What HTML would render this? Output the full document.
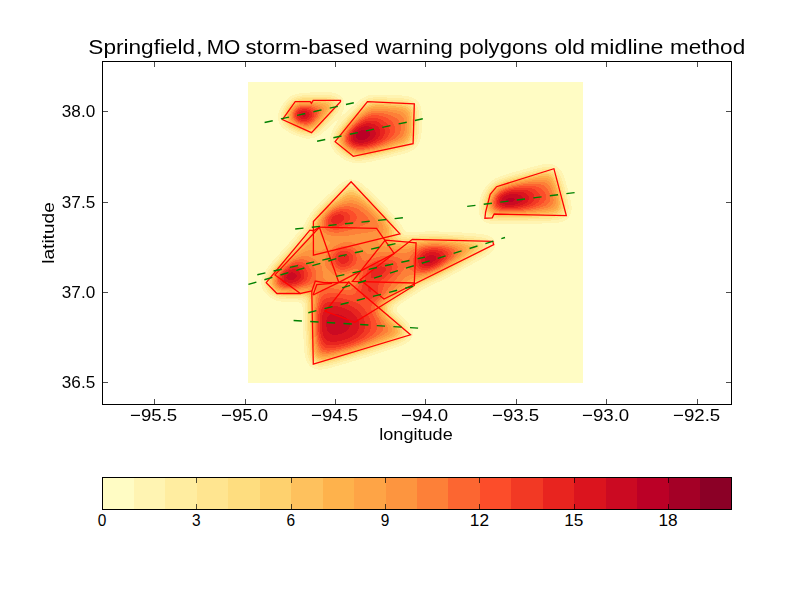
<!DOCTYPE html>
<html><head><meta charset="utf-8"><title>Springfield, MO storm-based warning polygons</title>
<style>html,body{margin:0;padding:0;background:#fff;}svg{display:block;}text{font-family:"Liberation Sans",sans-serif;fill:#000;}</style></head><body>
<svg width="812" height="612" viewBox="0 0 812 612">
<rect x="0" y="0" width="812" height="612" fill="#ffffff"/>
<g shape-rendering="crispEdges">
<rect x="247.9" y="81.8" width="335.0" height="301.0" fill="#fffcc4"/>
</g>
<g fill-rule="evenodd" stroke="none" shape-rendering="crispEdges">
<path fill="#fff4b2" d="M317.7,92.1L326.6,92.0L330.1,92.2L333.1,92.7L335.6,93.3L337.6,94.1L339.6,95.3L341.2,96.5L342.4,98.0L343.5,100.0L344.1,102.0L344.3,104.6L344.2,106.5L343.7,109.0L342.9,111.5L341.2,115.5L341.1,116.2L342.1,115.6L348.1,110.6L357.1,102.2L360.1,99.7L362.1,98.3L364.6,96.9L367.1,95.9L369.1,95.3L373.1,94.7L378.1,94.5L399.6,95.3L404.1,95.7L407.6,96.2L410.6,96.9L413.1,97.9L414.6,98.8L416.3,100.0L417.8,101.5L418.9,103.0L420.6,106.5L421.6,111.0L421.9,114.5L422.0,119.5L421.5,133.1L420.6,139.1L419.9,141.6L419.0,143.6L417.0,146.6L414.1,149.3L410.6,151.4L405.6,153.3L386.1,158.3L370.6,161.8L365.1,162.7L361.1,163.2L357.6,163.3L354.6,163.1L351.1,162.4L347.6,161.2L344.1,159.4L340.1,156.7L336.6,153.8L334.1,151.1L332.3,148.6L330.9,145.6L330.2,143.1L329.9,140.1L330.2,137.1L330.8,134.6L331.9,131.6L333.0,129.1L338.1,120.3L338.6,119.3L338.6,118.9L336.1,120.9L325.0,131.1L321.1,134.2L318.6,135.9L316.6,136.9L314.1,137.9L311.6,138.4L308.6,138.7L305.1,138.4L301.1,137.4L297.6,136.2L293.1,134.4L288.1,131.8L285.1,129.9L282.3,127.5L279.9,124.5L278.5,121.5L277.8,118.5L277.9,115.0L278.8,111.6L280.6,107.5L283.2,103.5L286.2,100.0L288.6,97.8L291.1,96.1L294.1,94.7L297.1,93.8L299.6,93.3L303.1,92.9ZM544.4,164.1L547.6,163.7L550.6,163.9L553.6,164.6L556.1,165.8L558.5,167.6L560.3,169.6L562.0,172.1L563.4,175.1L565.5,181.1L568.4,191.1L570.5,200.1L571.5,206.1L571.5,210.1L570.8,213.6L569.4,216.6L567.2,219.1L565.1,220.5L562.6,221.6L560.1,222.4L556.6,222.9L549.1,223.4L523.6,223.8L491.1,223.8L488.6,223.4L486.1,222.6L484.1,221.4L482.1,219.6L481.0,218.1L479.9,216.1L479.3,214.1L478.9,212.1L478.7,207.1L479.4,201.6L480.8,196.1L482.9,191.1L485.8,186.6L489.1,182.9L491.6,180.9L495.1,178.7L499.1,176.8L503.1,175.3L513.1,172.3L531.1,167.3L540.1,164.9ZM349.2,179.5L351.1,179.4L353.1,179.6L355.1,180.0L357.1,180.8L359.1,181.8L361.6,183.5L367.1,188.1L379.6,200.1L391.9,213.1L395.9,217.6L398.7,221.1L400.4,223.6L404.1,229.7L405.1,230.7L406.6,231.7L408.1,232.1L410.6,232.3L424.6,231.5L434.1,231.4L442.6,231.6L455.6,232.1L473.6,233.3L483.1,234.2L486.1,234.9L488.6,235.7L490.6,236.7L492.6,238.2L494.2,240.1L495.1,242.1L495.4,244.1L495.2,246.1L494.8,247.6L494.1,249.1L492.3,251.6L489.5,254.0L485.6,256.7L468.6,266.2L448.1,277.3L440.1,281.3L426.5,287.6L422.6,289.5L402.1,303.0L399.9,304.6L398.1,306.1L397.1,307.4L396.7,308.6L396.6,310.1L397.2,311.6L399.2,314.1L406.1,320.7L409.2,324.1L411.5,327.6L412.6,330.6L412.8,332.6L412.8,334.1L412.4,336.1L411.9,337.6L411.0,339.1L409.8,340.6L407.1,342.8L405.1,344.1L402.6,345.3L397.1,347.3L367.6,356.9L345.1,363.7L332.6,367.3L326.1,368.9L321.1,369.6L318.6,369.6L316.6,369.3L314.6,368.8L312.6,368.0L310.6,366.6L309.1,365.2L307.9,363.6L306.7,361.6L305.9,359.6L305.2,357.1L304.7,354.1L304.2,350.1L303.1,331.6L302.9,324.6L302.8,309.1L302.4,306.6L301.6,304.5L300.2,303.1L298.1,302.2L294.6,301.9L284.6,301.8L280.1,301.4L277.6,300.9L275.1,300.1L273.1,299.3L270.6,297.9L268.1,296.0L266.1,294.1L264.5,292.1L262.9,289.6L261.9,287.1L261.3,284.6L261.2,282.1L261.4,279.6L262.1,277.1L263.3,274.1L265.1,271.1L267.5,267.6L272.3,261.6L288.1,244.1L301.6,228.2L304.6,223.8L307.9,217.6L309.9,214.1L312.1,211.1L314.6,208.1L317.8,204.6L322.1,200.3L339.1,184.8L341.6,182.8L344.1,181.3L346.6,180.2Z"/>
<path fill="#ffeda0" d="M309.2,95.0L318.6,94.6L324.6,94.7L329.1,95.0L333.1,95.7L336.3,97.0L337.6,98.0L338.8,99.0L339.5,100.1L340.2,101.5L340.6,103.0L340.7,104.5L340.5,106.5L339.9,108.5L339.0,110.5L337.4,113.0L331.9,119.6L322.6,129.4L318.6,132.7L315.1,134.6L311.6,135.7L307.6,136.0L303.1,135.3L298.1,133.8L292.1,131.1L287.1,128.1L284.2,125.6L282.3,123.0L281.0,120.0L280.7,118.5L280.6,116.5L280.8,114.5L281.3,112.5L282.0,110.5L283.3,108.1L284.8,105.5L286.4,103.5L288.2,101.6L290.1,99.9L293.6,97.7L297.6,96.2L302.1,95.5ZM372.8,97.5L377.1,97.2L382.6,97.3L397.1,98.0L404.1,98.5L407.6,99.1L410.1,99.9L412.6,101.2L414.6,102.7L416.5,105.0L417.7,107.6L418.6,110.5L419.1,114.5L419.2,121.5L418.9,131.1L418.3,136.1L417.3,140.1L416.5,142.1L415.3,144.1L414.0,145.6L412.1,147.2L410.1,148.5L407.6,149.7L401.6,151.7L379.6,157.3L370.6,159.2L364.6,160.2L360.1,160.7L356.6,160.7L353.1,160.2L349.6,159.2L345.6,157.3L341.1,154.3L337.6,151.1L335.2,148.1L334.3,146.6L333.4,144.6L332.8,141.6L332.9,138.1L333.8,134.6L334.9,132.1L336.4,129.6L338.4,126.5L341.5,122.5L347.7,115.5L357.6,105.4L361.6,102.0L365.1,99.8L368.6,98.4ZM543.8,167.1L546.6,166.7L549.6,166.8L552.1,167.4L554.6,168.5L556.6,170.0L558.4,172.1L560.0,174.6L561.2,177.1L563.3,183.1L565.8,192.1L567.7,200.1L568.5,205.1L568.5,209.1L567.9,212.1L566.6,214.7L564.6,216.9L562.6,218.2L560.6,219.1L558.1,219.8L554.6,220.3L547.1,220.7L519.6,221.4L496.1,221.3L492.1,221.0L489.6,220.5L487.6,219.8L485.7,218.6L484.1,217.1L483.1,215.6L482.4,214.1L481.8,212.1L481.5,210.1L481.4,205.6L482.3,200.1L483.8,195.1L485.8,191.1L488.6,187.1L491.6,184.0L494.6,181.9L497.6,180.2L501.1,178.7L505.1,177.3L526.6,171.3L538.1,168.2ZM349.1,183.1L351.1,182.9L353.6,183.1L355.6,183.7L358.1,184.9L360.1,186.2L363.1,188.5L371.1,195.6L382.1,206.5L392.7,218.1L395.6,221.6L397.3,224.1L401.6,232.3L402.7,233.6L404.2,234.6L406.1,235.2L409.1,235.4L423.1,234.2L432.6,234.0L440.1,234.1L456.1,234.9L478.1,236.7L481.6,237.3L484.1,237.9L486.1,238.7L488.1,239.8L489.5,241.1L490.5,242.6L490.9,244.1L490.8,246.1L489.8,248.6L488.1,250.6L485.3,253.1L481.1,255.8L464.6,265.4L446.6,275.3L437.6,279.8L424.5,285.6L420.6,287.6L417.4,289.6L409.1,295.3L398.6,302.1L396.0,304.0L394.4,305.6L393.4,307.1L392.9,308.6L392.9,310.1L393.7,312.1L396.2,315.1L403.0,321.6L405.8,324.6L407.9,327.6L409.0,330.1L409.3,331.6L409.4,333.1L409.2,334.6L408.8,336.1L407.2,338.6L404.6,340.8L400.6,343.0L394.6,345.3L368.6,353.9L349.6,359.7L335.6,363.8L327.1,365.9L322.1,366.7L318.1,366.6L316.1,366.2L314.1,365.3L312.6,364.3L311.3,363.1L310.1,361.6L309.0,359.6L308.2,357.6L307.6,355.1L306.7,348.5L305.5,330.6L305.3,323.6L305.3,307.1L304.8,304.1L304.0,302.1L303.1,301.1L302.1,300.4L299.6,299.6L296.1,299.3L285.6,299.3L281.6,299.0L277.1,298.0L273.1,296.3L270.6,294.7L268.8,293.1L267.1,291.1L265.8,289.1L264.9,287.1L264.2,284.6L264.0,282.6L264.2,280.1L264.8,277.6L266.0,274.6L267.8,271.6L269.8,268.5L274.7,262.6L290.1,246.1L303.6,230.4L306.7,226.1L310.4,218.6L312.2,215.5L314.2,212.6L317.1,209.1L320.4,205.6L324.1,202.0L340.1,187.9L342.6,186.0L345.1,184.5L347.1,183.6Z"/>
<path fill="#ffe590" d="M316.8,96.5L322.1,96.5L326.6,96.7L330.1,97.2L332.6,97.9L334.9,99.0L336.6,100.5L337.5,102.0L338.1,104.0L338.1,106.0L337.6,108.0L336.7,110.0L335.1,112.5L332.3,116.0L328.0,121.1L323.8,125.5L320.6,128.7L317.1,131.4L313.6,133.2L311.6,133.8L309.6,134.1L305.7,134.0L302.6,133.4L300.1,132.7L294.1,130.3L289.1,127.4L285.8,124.5L284.0,122.0L283.0,119.5L282.6,117.0L282.8,114.1L283.8,111.0L285.3,108.0L287.6,104.7L290.1,102.1L292.1,100.6L294.1,99.4L296.6,98.3L299.1,97.6L304.6,97.0ZM373.0,99.5L377.1,99.2L382.6,99.3L396.1,99.9L403.1,100.5L406.6,101.1L409.1,101.9L411.1,102.9L413.1,104.4L414.8,106.6L416.0,109.0L416.7,112.0L417.1,115.5L417.2,122.5L416.9,131.6L416.3,136.1L415.3,139.6L414.4,141.6L413.0,143.6L411.5,145.1L409.4,146.6L407.1,147.7L404.6,148.7L396.1,151.2L376.6,156.2L369.1,157.8L363.6,158.6L359.6,158.9L356.1,158.9L352.6,158.3L349.6,157.3L345.6,155.2L342.1,152.8L339.1,150.1L336.7,147.1L335.3,144.1L334.7,141.1L334.8,138.1L335.8,134.6L337.0,132.1L338.5,129.6L343.0,123.6L349.2,116.5L358.1,107.6L362.1,104.1L365.6,101.9L369.1,100.4ZM544.4,169.1L547.1,168.9L549.6,169.1L552.1,169.8L554.1,170.9L555.6,172.2L557.2,174.1L558.7,176.6L560.0,179.6L562.0,185.6L564.4,194.1L565.8,200.6L566.4,205.1L566.4,208.6L565.8,211.1L564.5,213.6L562.6,215.5L560.6,216.7L558.6,217.4L555.6,218.1L552.1,218.5L525.6,219.6L511.6,219.7L497.6,219.5L492.6,219.1L490.6,218.6L488.6,217.8L487.1,216.8L485.6,215.3L484.8,214.1L484.1,212.6L483.3,209.1L483.3,204.6L484.2,199.6L485.5,195.6L487.5,191.6L490.0,188.1L493.1,185.0L495.6,183.3L498.6,181.6L501.6,180.4L506.1,178.8L514.6,176.3L528.1,172.8L539.6,169.9ZM349.9,185.6L352.1,185.5L354.1,185.9L356.6,186.8L359.1,188.3L362.1,190.5L365.6,193.4L375.2,202.1L384.3,211.6L392.3,220.6L394.5,223.6L396.0,226.1L399.5,234.1L400.7,235.6L402.6,236.7L405.1,237.4L408.1,237.6L422.1,236.2L430.6,235.8L438.1,235.8L454.6,236.6L472.6,238.3L479.6,239.4L482.1,240.1L484.1,241.0L485.6,242.1L486.4,243.0L487.0,244.6L487.1,246.1L486.3,248.1L484.3,250.6L481.2,253.1L476.1,256.3L459.1,266.4L445.1,274.2L436.6,278.4L423.3,284.1L419.1,286.2L416.1,288.1L407.1,294.3L396.7,301.1L394.0,303.1L392.4,304.6L391.1,306.1L390.4,308.1L390.4,310.1L391.1,312.1L392.1,313.6L393.9,315.6L400.7,322.1L403.5,325.1L405.3,327.6L406.4,330.1L406.8,332.6L406.4,335.1L405.7,336.5L404.9,337.6L402.6,339.5L399.2,341.4L393.1,343.7L367.6,352.3L350.1,357.7L336.1,361.8L327.6,363.9L322.6,364.7L320.6,364.8L318.6,364.6L316.6,364.0L315.1,363.4L313.6,362.3L312.4,361.1L311.3,359.6L310.6,358.1L309.8,356.1L309.2,353.6L308.3,346.6L307.1,329.6L306.9,323.1L307.0,305.6L306.5,302.6L305.6,300.4L304.6,299.2L303.7,298.6L301.1,297.8L298.1,297.5L287.6,297.6L282.6,297.3L278.1,296.4L274.6,295.0L272.6,293.8L270.6,292.2L269.1,290.6L267.7,288.6L266.8,286.6L266.2,284.6L266.0,282.6L266.1,280.1L266.9,277.1L268.3,274.1L270.5,270.6L273.5,266.6L278.1,261.3L293.3,245.6L303.1,234.3L306.3,230.6L308.6,226.8L312.1,219.6L313.7,216.6L315.8,213.6L318.6,210.1L322.1,206.3L326.1,202.6L341.1,189.9L343.6,188.1L345.6,186.9L347.6,186.1Z"/>
<path fill="#fedd7f" d="M302.1,98.5L306.6,98.3L318.1,98.1L323.1,98.2L327.1,98.5L330.1,99.1L332.6,100.2L334.4,101.5L335.1,102.5L335.6,103.5L335.8,104.5L335.8,106.0L335.2,108.5L333.6,111.6L331.0,115.0L324.5,122.5L320.1,127.1L318.1,128.8L316.1,130.3L312.6,131.9L309.1,132.6L305.1,132.4L300.6,131.4L296.1,129.7L291.6,127.4L288.5,125.0L286.2,122.5L285.3,121.0L284.7,119.5L284.2,116.5L284.3,115.0L284.7,113.0L285.4,111.1L286.4,109.0L288.8,105.5L291.6,102.7L294.6,100.7L298.1,99.3ZM374.9,101.0L378.6,100.9L384.1,101.0L396.6,101.7L402.6,102.2L405.6,102.7L408.1,103.5L410.1,104.5L411.6,105.7L413.2,107.5L414.4,110.0L415.1,113.0L415.5,117.0L415.5,124.5L415.2,132.1L414.6,136.1L413.4,139.6L412.1,141.7L410.5,143.6L408.1,145.3L405.6,146.6L398.6,148.9L378.6,154.3L367.6,156.6L363.6,157.2L360.1,157.5L357.1,157.5L354.1,157.1L351.1,156.3L348.6,155.2L345.1,153.2L341.6,150.5L339.1,147.9L337.4,145.1L336.5,142.6L336.2,139.6L336.7,136.6L337.8,133.6L339.2,131.1L340.8,128.6L345.6,122.5L352.1,115.6L360.1,107.9L363.6,105.0L367.1,103.0L370.6,101.7ZM542.7,171.1L545.6,170.7L548.1,170.8L550.1,171.2L552.1,172.0L554.1,173.4L555.6,175.0L557.0,177.1L558.2,179.6L560.2,185.1L562.3,192.6L563.8,199.1L564.6,204.1L564.6,207.6L564.1,210.1L563.1,212.1L561.2,214.1L559.6,215.1L557.1,216.0L554.6,216.5L551.1,216.9L525.6,218.2L511.6,218.4L499.6,218.1L493.6,217.6L491.6,217.1L489.6,216.3L488.1,215.3L487.0,214.1L485.6,211.6L484.8,208.1L484.9,204.1L485.6,199.6L487.0,195.6L488.8,192.1L491.1,188.9L494.1,186.0L496.6,184.3L499.6,182.7L503.1,181.3L507.1,179.9L524.1,175.4L537.1,172.2ZM348.9,188.1L351.1,187.8L353.1,187.9L355.6,188.7L358.1,190.0L361.1,192.1L365.1,195.3L374.6,203.9L383.6,213.1L390.9,221.6L393.0,224.6L394.4,227.1L395.4,229.6L396.8,234.1L397.5,235.6L398.2,236.6L399.1,237.5L401.1,238.6L404.1,239.3L407.6,239.5L421.6,237.8L434.6,237.3L445.1,237.6L457.1,238.4L471.6,240.1L475.1,240.7L478.1,241.4L480.6,242.4L482.2,243.6L483.1,245.1L483.2,246.6L482.9,247.6L482.0,249.1L479.5,251.6L475.4,254.6L468.3,259.1L453.1,268.2L442.6,273.9L434.6,277.8L422.1,282.9L417.8,285.1L414.7,287.0L406.1,293.0L395.3,300.1L392.6,302.1L390.4,304.1L389.0,306.1L388.3,308.1L388.3,310.1L389.0,312.0L390.1,313.8L391.6,315.6L399.3,323.1L401.6,325.5L403.3,328.1L404.2,330.1L404.6,332.6L404.1,334.6L402.9,336.6L401.1,338.1L397.6,340.1L392.1,342.3L368.6,350.4L351.6,355.8L337.6,359.8L328.1,362.2L323.1,363.0L321.1,363.1L319.1,362.9L317.6,362.5L316.1,361.8L314.6,360.8L313.5,359.6L312.5,358.1L311.7,356.5L310.5,352.1L309.5,344.1L308.4,329.1L308.3,322.1L308.4,304.6L308.0,301.6L307.1,299.1L306.1,297.9L305.1,297.2L303.7,296.6L302.1,296.2L299.1,296.0L288.6,296.1L283.6,295.9L279.1,295.2L275.6,293.8L273.6,292.7L272.1,291.5L270.6,290.0L269.3,288.1L268.3,286.1L267.8,284.1L267.6,282.1L267.7,280.1L268.6,277.1L270.0,274.1L272.2,270.6L274.9,267.1L279.6,261.7L295.2,246.1L304.1,236.1L307.6,231.8L310.1,227.9L313.4,220.6L315.0,217.6L317.3,214.0L320.1,210.6L323.1,207.4L326.6,204.2L340.1,193.2L345.1,189.6L347.1,188.6Z"/>
<path fill="#fed16e" d="M304.4,99.5L319.1,99.5L323.6,99.7L326.6,100.1L329.6,100.9L331.6,102.0L333.1,103.5L333.6,105.0L333.7,106.5L333.4,108.0L332.0,111.0L329.1,115.0L323.6,121.5L319.9,125.5L316.6,128.3L313.6,130.1L310.6,131.0L307.1,131.3L303.1,130.8L299.1,129.6L294.6,127.7L291.1,125.5L288.3,123.0L286.6,120.5L285.7,118.0L285.6,115.0L285.9,113.5L286.6,111.6L288.4,108.0L291.1,104.7L293.6,102.7L296.6,101.1L300.1,100.1ZM375.4,102.5L379.6,102.4L385.1,102.6L396.6,103.2L402.1,103.8L405.1,104.3L407.1,105.0L409.1,106.0L410.6,107.3L412.1,109.4L413.1,112.0L413.7,115.0L414.0,119.1L414.0,126.5L413.6,132.6L412.8,136.6L411.6,139.4L410.1,141.5L408.5,143.1L406.2,144.6L403.6,145.7L398.6,147.4L387.1,150.7L373.6,154.2L364.6,155.8L361.1,156.2L358.1,156.3L355.6,156.0L353.1,155.6L350.6,154.7L348.1,153.6L344.9,151.6L342.0,149.1L339.8,146.6L338.4,144.1L337.7,141.6L337.6,139.1L338.2,136.1L339.5,133.1L342.3,128.6L347.2,122.5L353.6,115.8L361.1,108.8L364.6,106.2L368.1,104.2L371.6,103.1ZM543.6,172.6L546.1,172.4L548.6,172.6L550.7,173.3L552.1,174.1L553.6,175.4L555.0,177.1L556.2,179.1L557.5,182.1L559.2,187.1L561.1,193.6L562.3,199.1L562.9,203.6L562.9,206.6L562.4,209.1L561.4,211.1L559.6,212.9L557.6,214.0L555.6,214.6L553.1,215.1L549.6,215.5L525.6,216.9L509.6,217.2L499.6,216.9L494.1,216.3L492.1,215.7L490.6,215.1L489.1,214.0L487.9,212.6L486.7,210.1L486.1,206.6L486.3,202.6L487.2,198.6L488.5,195.1L490.6,191.6L493.1,188.6L495.6,186.4L498.1,184.8L501.1,183.3L508.6,180.8L517.6,178.3L527.6,175.9L538.6,173.4ZM350.1,190.1L352.1,190.0L354.6,190.6L357.1,191.7L359.6,193.2L363.6,196.2L368.1,200.0L373.1,204.5L377.8,209.1L385.6,217.6L390.4,223.6L391.9,226.1L393.1,228.5L393.7,230.6L394.6,235.1L395.1,236.6L396.6,238.6L399.1,240.0L402.1,240.9L406.1,241.2L409.6,240.9L420.1,239.3L429.1,238.7L439.6,238.6L452.1,239.4L466.0,241.1L470.6,241.8L473.9,242.6L476.6,243.6L478.2,244.6L479.0,245.6L479.2,247.1L478.9,248.1L478.0,249.6L474.9,252.6L469.3,256.6L460.7,262.1L449.6,268.7L440.2,273.9L431.6,277.7L420.5,282.1L416.4,284.1L413.3,286.1L405.1,291.8L394.1,299.1L390.9,301.6L388.8,303.6L387.1,305.9L386.5,308.1L386.5,310.1L387.4,312.6L388.6,314.5L390.1,316.3L399.4,325.6L401.2,328.1L402.1,330.1L402.4,332.1L402.0,334.0L401.1,335.6L399.1,337.3L395.6,339.3L389.8,341.6L367.6,349.3L352.1,354.3L339.6,357.9L329.1,360.6L324.1,361.5L322.1,361.6L320.1,361.4L318.6,361.1L317.1,360.5L315.8,359.6L314.6,358.4L313.7,357.1L313.0,355.6L312.3,353.6L311.7,351.1L310.6,341.6L309.6,328.6L309.5,321.1L309.8,307.1L309.7,303.1L309.1,299.7L308.1,297.6L307.3,296.6L306.1,295.8L304.6,295.2L303.1,294.8L300.1,294.7L290.1,294.9L285.1,294.8L280.6,294.2L277.1,293.1L275.1,292.0L273.1,290.6L271.7,289.1L270.6,287.6L269.8,286.1L269.2,284.1L269.0,282.1L269.2,280.1L270.0,277.1L271.4,274.1L273.7,270.6L276.4,267.1L281.1,261.9L292.1,251.6L297.1,246.6L303.9,239.1L308.6,233.5L310.1,231.4L311.5,229.1L314.8,221.1L316.3,218.1L318.5,214.6L321.4,211.1L324.6,207.7L328.1,204.6L341.1,194.6L346.1,191.4L348.1,190.5Z"/>
<path fill="#fec15d" d="M307.6,100.5L320.1,100.9L323.6,101.2L326.1,101.6L328.6,102.5L330.2,103.5L331.2,105.0L331.5,106.6L331.3,108.0L330.8,109.5L328.8,113.0L323.2,120.0L318.7,125.0L315.6,127.5L313.1,128.9L310.1,129.9L307.1,130.2L303.6,129.8L299.6,128.7L295.6,127.0L292.4,125.0L290.0,123.0L288.3,121.0L287.2,118.5L286.8,116.0L287.3,113.0L288.8,109.6L290.9,106.5L293.6,104.0L296.6,102.3L299.6,101.3L303.1,100.7ZM375.2,104.0L379.1,103.9L384.1,104.0L400.6,105.2L403.6,105.7L405.6,106.3L407.6,107.2L409.1,108.4L410.6,110.4L411.6,112.5L412.2,115.5L412.5,119.5L412.5,126.0L412.1,132.1L411.5,135.6L410.3,138.6L408.8,140.6L407.2,142.1L405.1,143.4L402.6,144.6L397.6,146.3L386.1,149.8L372.6,153.3L364.1,154.8L361.1,155.1L358.1,155.1L355.6,154.9L353.1,154.3L350.6,153.5L348.1,152.2L345.1,150.3L342.6,148.1L340.6,145.6L339.4,143.1L338.8,140.6L339.0,138.1L339.6,135.6L341.0,132.6L344.0,128.1L348.6,122.6L354.6,116.5L361.6,110.1L365.1,107.5L368.1,105.8L371.6,104.6ZM540.5,174.6L545.6,174.1L547.6,174.2L549.6,174.8L551.1,175.6L552.8,177.1L554.1,178.8L555.4,181.1L557.1,185.3L558.9,191.1L560.4,197.1L561.2,202.1L561.3,205.6L560.9,208.1L559.8,210.1L558.3,211.6L556.6,212.5L554.6,213.2L552.1,213.7L548.6,214.2L525.6,215.8L511.1,216.2L501.6,215.9L495.6,215.3L493.6,214.8L491.6,214.0L490.3,213.1L489.1,211.8L488.0,209.6L487.4,206.6L487.4,203.1L488.2,199.1L489.5,195.6L491.2,192.6L493.6,189.6L496.1,187.4L498.6,185.8L501.1,184.6L504.6,183.2L508.6,181.9L523.1,178.2ZM349.0,192.6L351.1,192.2L353.6,192.5L356.1,193.4L359.1,195.1L363.1,197.9L367.6,201.5L372.6,206.0L377.3,210.6L384.6,218.6L387.4,222.1L389.1,224.6L390.5,227.1L391.4,229.6L391.7,231.6L392.1,236.1L392.6,237.8L393.4,239.1L394.1,239.8L396.6,241.4L398.6,242.1L400.6,242.6L403.1,242.9L405.6,242.9L409.6,242.6L420.1,240.7L427.6,240.0L437.6,239.8L449.1,240.4L460.6,241.8L466.1,242.8L470.1,243.7L472.4,244.6L474.0,245.6L474.8,246.6L475.0,248.1L474.7,249.1L473.7,250.6L470.5,253.6L463.6,258.6L454.3,264.6L445.6,269.7L437.1,274.1L430.1,277.1L419.2,281.1L415.2,283.0L392.6,298.4L389.6,300.7L387.3,303.1L385.6,305.4L384.8,307.6L384.8,310.1L385.6,312.6L386.8,314.6L388.5,316.6L397.6,326.1L399.1,328.0L399.9,330.1L400.2,332.1L399.8,333.6L398.8,335.1L397.1,336.5L393.3,338.6L386.9,341.1L368.1,347.8L352.6,352.9L340.6,356.4L329.6,359.2L324.6,360.1L322.6,360.2L320.6,360.0L319.1,359.6L317.6,358.9L316.5,358.1L315.6,357.1L314.6,355.7L313.9,354.1L312.7,349.6L311.4,338.5L310.6,327.6L310.5,320.1L310.9,302.1L310.5,299.1L309.5,296.6L308.6,295.5L307.4,294.6L306.1,294.0L304.1,293.5L301.1,293.4L291.6,293.7L285.6,293.6L281.6,293.2L277.9,292.1L276.1,291.2L274.5,290.1L273.0,288.6L271.9,287.1L271.1,285.6L270.5,283.6L270.3,282.1L270.5,280.1L271.3,277.1L272.8,274.1L275.0,270.6L277.8,267.1L283.1,261.5L294.2,251.6L298.9,247.1L305.6,240.1L310.1,234.7L311.6,232.5L312.9,230.1L315.9,222.1L317.5,218.6L319.7,215.1L322.5,211.6L325.0,209.1L327.6,206.6L334.6,201.3L344.1,194.8L346.6,193.4Z"/>
<path fill="#feb24c" d="M301.0,102.0L304.6,101.6L310.1,101.7L319.1,102.2L324.1,102.9L326.6,103.7L328.4,105.0L329.1,106.6L329.1,108.6L328.6,110.0L327.6,112.0L324.4,116.5L319.4,122.5L315.6,126.1L312.6,127.9L309.6,128.8L306.1,129.0L302.6,128.5L299.6,127.6L297.1,126.5L294.3,125.0L292.1,123.5L290.5,122.0L289.1,120.1L288.5,118.6L288.1,116.5L288.2,114.0L289.0,111.5L290.4,109.0L291.9,107.0L294.0,105.1L296.1,103.7L298.6,102.6ZM375.2,105.5L378.6,105.4L383.6,105.5L399.6,106.8L402.6,107.3L404.6,107.9L406.2,108.5L407.6,109.7L409.1,111.5L410.0,113.5L410.6,116.5L411.0,120.5L410.9,127.0L410.6,132.1L409.8,135.6L408.6,138.0L407.5,139.6L405.6,141.2L403.4,142.6L400.6,143.7L384.4,149.1L377.6,151.0L371.6,152.4L363.6,153.8L360.6,154.0L357.6,154.0L355.1,153.7L352.7,153.0L350.6,152.3L348.1,151.0L345.4,149.1L343.2,147.1L341.6,145.0L340.5,142.6L340.0,140.1L340.2,137.6L341.0,135.1L342.5,132.1L345.7,127.6L350.0,122.5L355.6,117.0L361.6,111.8L365.1,109.2L368.1,107.4L371.6,106.2ZM540.7,176.0L543.6,175.8L545.6,175.8L547.6,176.1L549.1,176.6L550.6,177.5L552.1,178.9L553.3,180.6L554.6,183.1L556.2,187.1L557.9,192.6L559.1,198.1L559.7,202.1L559.6,204.9L559.2,207.1L558.1,209.0L556.6,210.4L554.6,211.4L552.6,212.0L546.1,213.0L525.6,214.7L510.6,215.2L502.1,215.0L496.1,214.2L494.1,213.7L492.6,213.0L491.1,211.9L490.0,210.6L488.9,208.1L488.5,205.1L488.7,201.6L489.6,198.1L490.9,195.1L492.9,192.1L495.1,189.6L497.6,187.6L500.1,186.2L503.1,184.8L511.1,182.3L525.6,178.9ZM348.6,195.1L351.1,194.6L353.6,194.9L356.6,196.0L359.7,197.6L363.6,200.4L368.1,204.0L373.1,208.5L377.6,213.0L384.3,220.6L386.2,223.1L387.7,225.6L388.8,228.1L389.3,230.1L389.4,232.1L389.2,236.6L389.5,238.6L390.2,240.1L391.1,241.0L392.5,242.1L394.1,242.9L396.6,243.7L399.1,244.3L402.1,244.7L405.1,244.8L409.6,244.3L420.1,242.0L426.1,241.3L435.6,240.9L445.6,241.4L456.6,242.6L461.5,243.5L465.5,244.6L468.2,245.6L469.8,246.6L470.6,247.5L470.8,249.1L470.4,250.1L469.4,251.6L465.7,255.1L459.6,259.6L451.4,265.1L443.1,269.9L435.1,273.9L428.1,276.7L417.9,280.1L413.6,282.0L411.1,283.6L403.8,289.1L391.6,297.4L388.1,300.2L385.8,302.6L384.4,304.6L383.4,306.6L383.1,308.6L383.4,311.1L384.4,313.6L386.1,316.1L394.6,325.1L396.2,327.1L397.1,328.6L397.8,330.6L397.6,332.6L396.8,334.1L395.2,335.6L393.1,336.8L390.5,338.1L380.2,342.1L366.1,347.2L353.1,351.5L340.6,355.2L330.1,357.8L324.6,358.7L321.1,358.6L319.6,358.1L318.1,357.4L317.1,356.5L316.1,355.3L315.4,354.1L314.6,352.1L313.6,347.6L312.3,336.6L311.6,326.6L311.6,318.6L312.1,301.1L311.6,297.6L310.6,295.3L309.6,294.1L308.6,293.3L307.1,292.7L305.1,292.2L302.1,292.1L293.1,292.6L287.1,292.6L282.6,292.2L279.1,291.3L277.1,290.4L275.6,289.4L274.2,288.1L273.1,286.7L272.3,285.1L271.8,283.6L271.6,282.1L271.7,280.1L272.5,277.1L274.3,273.6L276.6,270.1L279.6,266.6L285.1,261.2L297.8,250.6L302.2,246.6L307.7,241.1L311.6,236.6L313.2,234.1L314.4,231.6L317.0,223.1L318.4,219.6L320.8,215.6L323.6,212.1L328.1,207.7L334.1,203.3L343.6,197.3L346.1,196.0Z"/>
<path fill="#fea446" d="M300.9,103.0L304.7,102.6L309.6,102.7L317.6,103.4L322.1,104.1L324.6,105.1L325.9,106.0L326.7,107.5L326.6,109.5L326.1,111.1L325.1,113.1L321.6,118.0L317.8,122.5L314.6,125.4L312.1,126.8L309.1,127.7L305.6,127.9L302.1,127.3L299.1,126.4L296.6,125.3L294.5,124.0L292.6,122.6L291.1,121.0L290.2,119.5L289.5,118.0L289.2,116.0L289.4,114.0L290.2,111.5L291.2,109.5L292.8,107.5L294.6,105.8L296.6,104.5L298.6,103.7ZM375.7,107.0L379.6,106.9L384.1,107.1L398.6,108.5L403.1,109.5L404.6,110.2L406.1,111.3L407.5,113.1L408.4,115.0L409.0,118.1L409.3,121.6L409.3,127.1L408.9,131.6L408.3,134.6L407.1,137.1L406.0,138.6L404.1,140.2L401.8,141.6L399.1,142.7L391.3,145.6L383.6,148.1L376.9,150.1L370.6,151.6L363.1,152.8L360.1,153.0L357.6,152.9L355.1,152.6L352.6,151.9L350.1,150.9L347.9,149.6L345.3,147.6L343.4,145.6L342.1,143.6L341.3,141.1L341.2,139.1L341.6,136.6L342.6,134.1L344.3,131.1L347.3,127.0L351.6,122.3L357.1,117.1L362.6,112.6L366.1,110.2L369.1,108.6L372.1,107.6ZM542.2,177.6L544.1,177.5L546.1,177.7L547.6,178.1L549.4,179.1L550.6,180.1L551.8,181.6L553.0,183.6L554.1,186.1L555.6,190.4L556.8,194.6L557.6,198.6L557.9,202.1L557.8,204.6L557.2,206.6L556.2,208.1L554.6,209.3L552.6,210.2L550.1,210.9L541.6,212.1L525.1,213.7L510.6,214.2L502.1,214.0L496.6,213.2L494.6,212.6L493.1,211.8L491.7,210.6L490.9,209.6L490.0,207.6L489.6,204.6L489.8,201.6L490.7,198.1L492.1,195.1L493.7,192.5L496.1,190.1L498.6,188.2L501.1,186.8L504.6,185.3L508.6,184.1L514.1,182.6L529.1,179.5L537.6,178.1ZM349.0,197.6L351.6,197.3L354.6,197.7L357.6,198.9L361.1,200.9L365.6,204.1L370.1,207.9L374.6,212.1L379.1,217.0L383.6,222.6L385.2,225.1L386.1,227.0L386.7,229.1L386.8,231.1L386.5,233.0L385.4,237.1L385.3,238.6L385.5,239.6L386.1,241.1L386.9,242.1L388.1,243.1L390.1,244.2L393.1,245.3L397.2,246.2L401.1,246.7L404.6,246.8L408.6,246.3L418.6,243.7L425.1,242.6L434.1,242.0L443.1,242.3L453.6,243.6L458.4,244.6L461.9,245.6L464.3,246.6L465.8,247.6L466.5,248.6L466.6,250.1L466.3,251.1L465.3,252.6L461.8,256.1L455.9,260.6L448.5,265.6L440.6,270.1L433.1,273.7L426.6,276.1L416.1,279.0L412.1,280.8L409.6,282.4L402.2,288.1L391.1,295.9L387.3,299.1L384.6,301.7L382.9,304.1L381.7,306.6L381.4,308.6L381.6,311.1L382.6,313.6L384.2,316.1L386.2,318.6L392.6,325.6L394.6,328.6L395.1,330.1L395.1,331.6L394.5,333.1L393.0,334.6L391.5,335.6L388.5,337.0L377.6,341.6L365.8,346.1L354.1,350.0L342.6,353.4L332.1,356.1L326.1,357.2L324.1,357.3L322.1,357.2L320.6,356.8L319.1,356.1L318.1,355.3L317.1,354.1L316.3,352.6L315.6,350.6L314.4,345.1L313.1,334.6L312.6,325.6L312.6,316.6L313.4,303.1L313.4,299.6L313.0,296.6L312.0,294.1L311.1,292.9L309.6,291.8L308.1,291.2L306.6,290.9L303.6,290.8L294.6,291.5L288.1,291.6L283.1,291.2L279.6,290.2L278.1,289.6L276.6,288.6L275.1,287.2L274.2,286.1L273.5,284.6L273.0,283.1L272.9,281.6L273.0,279.6L273.9,276.6L275.8,273.1L278.3,269.6L281.6,265.8L285.1,262.6L289.1,259.3L302.9,249.1L307.3,245.6L311.3,242.1L313.6,239.6L315.1,237.1L316.1,234.5L316.8,232.1L318.2,224.5L319.4,220.6L321.6,216.6L324.7,212.6L326.6,210.5L329.1,208.4L335.1,204.2L343.6,199.5L346.6,198.2Z"/>
<path fill="#fd953f" d="M300.9,104.0L303.6,103.6L307.2,103.6L311.6,103.9L316.2,104.5L319.1,105.2L321.6,106.0L323.1,107.0L323.9,108.1L324.2,109.5L323.9,111.1L323.1,113.1L321.4,116.0L318.8,119.6L316.7,122.0L314.6,123.9L312.6,125.3L310.1,126.3L307.6,126.8L304.6,126.8L301.6,126.2L298.6,125.2L295.6,123.5L293.0,121.5L291.4,119.6L290.6,117.5L290.4,115.0L290.9,112.5L292.1,110.0L293.7,108.0L296.0,106.0L298.1,104.9ZM373.3,109.0L376.6,108.7L380.7,108.7L386.1,109.0L392.1,109.7L397.1,110.5L400.1,111.1L402.6,112.0L404.1,113.1L405.4,114.5L406.3,116.5L406.9,119.0L407.3,122.5L407.4,127.0L407.0,131.1L406.3,134.1L405.3,136.1L404.1,137.6L402.4,139.1L399.8,140.6L396.5,142.1L390.2,144.6L383.1,147.1L377.6,148.7L372.1,150.2L364.6,151.6L361.6,151.9L358.6,151.9L356.1,151.7L353.6,151.1L351.1,150.2L349.1,149.1L346.6,147.3L344.8,145.6L343.4,143.6L342.6,141.6L342.3,139.6L342.6,137.1L343.4,134.6L344.6,132.3L347.3,128.6L350.6,124.7L354.6,120.8L359.1,116.9L363.1,113.8L366.6,111.5L370.1,109.9ZM539.5,179.6L544.1,179.5L546.1,180.0L547.5,180.6L549.0,181.6L550.1,182.8L552.1,186.1L553.6,189.8L554.8,193.6L555.6,197.6L556.0,201.1L555.8,203.6L555.1,205.3L554.1,206.7L552.6,207.9L550.6,208.8L547.6,209.6L535.1,211.6L523.6,212.8L511.1,213.3L503.1,213.1L497.6,212.3L495.6,211.7L494.1,210.9L493.0,210.1L491.9,208.6L490.9,206.1L490.7,203.6L491.1,200.6L492.0,197.6L493.2,195.1L495.0,192.6L497.1,190.5L499.6,188.7L502.1,187.4L505.6,186.1L514.6,183.6L527.6,181.1ZM347.9,200.6L351.1,200.2L354.4,200.6L357.6,201.7L361.6,203.8L366.1,206.9L370.6,210.8L375.1,215.2L379.3,220.1L381.4,223.1L382.8,225.6L383.4,227.6L383.6,229.5L383.3,231.1L382.6,232.6L378.5,239.1L378.0,240.6L378.0,241.6L378.3,242.6L379.2,243.6L380.5,244.6L382.5,245.6L387.0,247.0L392.6,248.3L399.7,249.2L404.1,249.4L406.1,249.2L408.6,248.7L417.6,245.4L423.6,244.0L427.6,243.5L432.1,243.2L436.7,243.2L441.1,243.4L446.1,243.8L451.0,244.6L455.1,245.5L458.1,246.4L460.7,247.6L462.0,248.6L462.6,249.6L462.7,251.1L462.1,252.6L461.0,254.1L459.1,256.1L456.3,258.6L448.8,264.1L440.5,269.1L434.6,272.0L429.1,274.1L423.6,275.7L413.6,277.8L411.1,278.7L409.1,279.8L407.1,281.2L400.0,287.1L390.1,294.5L386.1,298.0L383.2,301.1L381.3,303.6L380.1,306.1L379.7,308.1L379.7,310.6L380.5,313.1L382.1,316.1L384.1,318.7L390.0,325.6L391.0,327.1L391.8,328.6L392.1,330.0L391.8,331.6L391.1,332.7L389.6,334.1L385.1,336.6L374.9,341.1L364.8,345.1L354.9,348.6L343.6,351.9L333.7,354.5L327.1,355.7L325.1,355.9L323.1,355.8L321.1,355.2L319.9,354.6L318.6,353.4L317.7,352.0L317.0,350.6L316.2,348.1L315.1,342.1L313.9,332.6L313.5,323.6L313.7,314.6L314.7,301.6L314.8,298.1L314.4,294.6L313.2,292.1L312.4,291.1L311.1,290.2L309.6,289.7L307.6,289.4L304.6,289.4L296.1,290.3L290.6,290.6L285.1,290.3L281.1,289.5L279.6,289.0L278.0,288.1L276.6,287.0L275.4,285.6L274.7,284.1L274.2,282.6L274.1,281.1L274.3,279.6L274.9,277.1L276.4,274.1L278.1,271.3L280.4,268.6L283.1,265.7L286.6,262.7L290.6,259.7L294.6,257.0L298.6,254.6L302.6,252.6L305.6,251.3L308.6,250.4L312.1,250.0L314.1,250.2L318.6,251.0L320.1,250.9L321.1,250.7L322.6,250.0L324.1,249.0L328.1,245.6L329.6,243.6L329.7,242.6L329.6,242.1L328.6,241.1L324.1,238.9L322.6,237.9L321.1,236.1L320.1,233.6L319.6,230.1L319.6,226.1L320.3,222.6L321.3,219.6L323.0,216.6L325.3,213.6L328.1,210.7L331.1,208.4L335.1,205.8L339.6,203.5L344.1,201.6ZM348.1,277.4L346.1,278.4L345.0,279.6L344.9,280.6L345.1,281.1L345.6,281.6L347.2,282.1L348.6,281.9L350.1,281.1L351.0,280.1L351.4,278.6L351.2,278.1L350.8,277.6L349.6,277.2Z"/>
<path fill="#fd8038" d="M300.8,105.0L303.1,104.7L306.1,104.6L309.6,104.8L313.1,105.4L316.2,106.0L318.6,106.9L320.1,107.8L321.1,108.9L321.6,110.5L321.4,112.0L320.7,114.0L319.6,116.0L318.0,118.5L316.0,121.0L314.1,122.8L312.1,124.2L309.6,125.3L307.1,125.8L304.6,125.7L301.6,125.2L298.6,124.1L295.8,122.6L294.0,121.0L292.4,119.0L291.7,117.1L291.5,115.0L292.0,112.5L293.0,110.5L294.6,108.5L296.3,107.0L298.6,105.8ZM376.3,110.6L379.6,110.6L383.1,110.8L391.6,112.1L398.1,113.8L400.2,114.7L401.6,115.7L402.8,117.0L403.8,119.0L404.4,121.5L404.8,125.0L404.8,128.6L404.4,131.6L403.6,133.7L402.6,135.6L400.6,137.5L398.3,139.1L394.4,141.1L390.0,143.1L385.1,145.1L379.4,147.1L374.3,148.6L369.6,149.7L362.6,150.8L359.6,150.9L357.1,150.8L354.6,150.3L352.4,149.6L350.1,148.5L348.0,147.1L346.1,145.4L344.7,143.6L343.8,141.6L343.5,139.6L343.6,137.6L344.4,135.1L345.6,132.6L347.7,129.6L350.7,126.0L354.6,122.1L359.1,118.3L363.6,115.1L367.1,113.0L370.1,111.7L373.1,110.9ZM531.0,182.1L538.6,181.6L543.1,181.8L544.6,182.2L546.1,182.8L547.6,183.9L548.6,184.9L550.1,187.2L551.6,190.5L552.8,194.1L553.4,197.6L553.6,200.6L553.2,202.6L552.6,204.0L551.3,205.6L549.8,206.6L547.3,207.6L543.7,208.6L538.9,209.6L527.1,211.4L516.6,212.2L507.1,212.4L503.1,212.1L500.1,211.8L497.6,211.2L495.6,210.3L494.1,209.3L493.1,208.1L492.2,206.1L491.9,204.1L492.0,201.6L492.7,198.5L493.8,196.1L495.1,194.0L496.9,192.1L499.1,190.2L501.6,188.8L504.1,187.7L510.6,185.6L520.6,183.5ZM346.3,203.6L348.6,203.3L351.1,203.3L353.6,203.6L356.1,204.3L358.6,205.3L361.1,206.6L364.1,208.5L366.6,210.4L369.7,213.1L372.7,216.1L375.2,219.1L376.9,221.6L378.2,224.1L378.7,226.1L378.6,227.6L377.9,229.1L376.9,230.1L375.6,230.8L372.1,231.9L360.3,233.6L348.1,235.7L343.1,236.3L337.1,236.4L331.6,235.8L327.6,234.7L326.1,233.9L324.9,233.1L323.4,231.6L322.3,229.6L321.8,227.6L321.6,225.1L321.9,222.6L322.6,220.1L323.6,217.9L325.1,215.6L326.9,213.6L329.1,211.4L331.6,209.5L334.1,208.0L337.1,206.4L340.1,205.2L343.1,204.2ZM346.9,242.1L349.6,242.2L352.1,242.6L354.6,243.4L356.6,244.3L358.6,245.5L360.6,247.1L365.1,252.1L366.1,253.0L367.6,253.8L369.1,254.1L372.1,253.8L380.6,251.9L384.6,251.5L390.1,251.7L401.6,253.1L405.1,253.2L408.1,252.3L415.7,248.1L420.1,246.2L422.7,245.6L426.1,244.9L433.1,244.3L438.1,244.4L443.1,244.8L448.1,245.5L452.1,246.4L455.4,247.6L457.2,248.6L458.7,250.1L459.0,251.6L458.6,253.1L457.4,255.1L455.0,257.6L452.2,260.1L448.2,263.1L444.5,265.5L440.3,268.1L436.4,270.1L430.1,272.7L424.6,274.2L419.1,275.0L410.1,275.3L408.1,275.8L406.6,276.6L404.6,278.1L398.2,284.6L389.1,292.6L382.6,299.2L380.0,302.6L378.5,305.1L377.7,307.6L377.6,310.1L378.2,312.6L379.5,315.6L381.5,318.6L386.4,325.1L388.0,328.1L388.2,329.6L387.8,331.1L387.1,332.1L385.4,333.6L380.3,336.6L372.0,340.6L363.7,344.1L353.9,347.6L344.1,350.6L333.6,353.1L327.1,354.2L325.1,354.3L323.3,354.1L321.6,353.5L320.1,352.4L319.1,351.1L318.1,349.3L317.4,347.1L316.6,344.1L315.3,335.6L314.6,327.1L314.6,318.1L315.1,310.6L316.4,299.6L316.6,295.6L316.4,292.6L315.5,290.1L314.6,288.9L313.6,288.2L312.1,287.6L310.1,287.4L307.1,287.6L298.1,289.0L292.6,289.5L286.6,289.4L282.1,288.6L280.1,287.9L278.8,287.1L277.6,286.1L276.6,284.9L275.9,283.6L275.5,282.1L275.4,280.6L275.6,278.7L276.1,277.1L277.0,275.1L279.6,270.9L283.1,267.1L287.6,263.3L293.1,259.7L298.1,257.3L302.1,256.0L304.1,255.8L306.1,255.8L309.6,256.6L313.1,258.3L316.9,261.1L320.4,264.6L321.4,266.1L322.2,268.1L322.9,275.1L323.4,277.6L324.2,279.1L325.6,280.4L328.1,281.5L334.6,283.0L340.9,285.6L343.6,286.4L345.7,286.6L347.6,286.5L349.1,286.2L350.6,285.6L352.1,284.5L353.6,283.1L354.7,281.6L355.6,279.6L356.1,277.6L356.1,276.1L355.9,275.1L355.1,273.9L353.6,273.1L351.6,273.0L348.6,273.5L342.6,275.4L339.6,276.1L337.1,276.3L335.1,275.8L333.1,274.7L331.6,273.5L327.3,269.1L325.3,266.0L324.8,263.6L324.9,260.1L326.0,256.1L327.8,252.6L330.4,249.6L333.6,246.9L338.1,244.3L342.6,242.6L344.6,242.2Z"/>
<path fill="#fc6631" d="M300.9,106.0L303.1,105.7L305.6,105.6L308.6,105.8L311.6,106.4L314.1,107.1L316.5,108.0L317.9,109.0L318.6,110.0L319.0,111.0L319.0,112.6L318.5,114.5L317.5,116.5L316.3,118.5L314.7,120.5L313.1,122.0L311.7,123.0L309.6,124.1L307.6,124.6L305.1,124.7L302.6,124.4L299.6,123.5L297.1,122.2L295.1,120.7L293.8,119.0L293.0,117.5L292.7,115.5L292.9,113.5L293.7,111.5L295.1,109.5L296.6,108.1L298.6,106.9ZM372.6,113.0L375.1,112.7L378.1,112.7L381.5,113.0L385.1,113.7L388.6,114.6L392.1,115.9L394.6,117.1L396.9,118.5L398.4,120.1L399.5,121.6L400.3,123.5L400.8,125.5L401.0,128.1L400.8,130.1L400.3,132.1L399.4,134.1L397.7,136.1L395.9,137.6L392.9,139.6L389.3,141.6L381.4,145.1L377.1,146.6L371.9,148.1L364.6,149.5L361.6,149.8L358.6,149.8L356.1,149.5L354.1,149.0L351.8,148.1L349.6,146.8L347.6,145.3L346.2,143.5L345.3,142.1L344.7,140.1L344.7,138.1L345.1,136.1L346.0,134.1L347.4,131.6L349.7,128.6L352.6,125.4L356.1,122.2L359.6,119.4L363.1,117.0L366.6,115.1L369.6,113.8ZM526.5,184.1L533.6,183.7L539.1,184.0L541.1,184.4L543.1,185.0L545.6,186.6L547.1,188.2L548.3,190.1L549.4,192.6L550.1,195.3L550.4,198.1L550.3,200.1L549.8,201.6L548.9,203.1L547.2,204.6L545.4,205.6L539.7,207.6L530.1,209.7L520.1,211.0L509.6,211.4L505.6,211.4L502.1,211.0L499.6,210.6L497.1,209.7L495.6,208.8L494.4,207.6L493.6,206.1L493.1,204.1L493.0,202.1L493.5,199.6L494.5,197.1L495.7,195.1L497.4,193.1L499.1,191.5L501.1,190.2L503.5,189.1L509.1,187.1L517.6,185.3ZM342.8,206.6L347.1,206.2L351.1,206.6L355.1,207.8L359.1,209.8L363.7,213.1L367.2,216.6L368.3,218.1L369.0,219.6L369.3,221.1L369.0,222.1L368.6,222.6L367.6,223.5L365.1,224.7L351.5,229.6L343.1,231.8L338.1,232.6L334.1,232.6L330.1,231.9L328.6,231.3L327.1,230.5L325.6,229.2L324.8,228.1L324.1,226.6L323.7,224.6L323.6,223.1L324.0,221.1L324.7,219.1L325.7,217.1L327.1,215.1L328.6,213.5L330.6,211.8L332.6,210.4L335.1,209.0L337.6,208.0L340.1,207.1ZM433.5,245.6L438.1,245.6L443.1,246.1L447.6,247.0L451.1,248.0L453.2,249.1L454.9,250.6L455.4,252.1L455.4,253.1L455.1,254.0L453.5,256.6L451.1,259.1L447.5,262.0L444.0,264.6L439.9,267.1L435.6,269.3L431.6,271.0L427.6,272.3L424.6,273.0L422.1,273.3L419.6,273.3L417.1,273.0L414.6,272.3L412.6,271.2L411.0,270.1L408.1,267.5L407.1,266.9L406.1,266.9L405.1,267.7L399.1,275.6L390.1,286.1L384.4,294.1L377.5,302.5L376.2,304.6L375.6,306.1L375.2,307.6L375.1,309.6L375.2,311.1L375.8,313.1L377.4,316.6L382.1,324.6L383.1,327.1L383.2,328.6L382.9,330.1L382.3,331.1L381.0,332.6L378.5,334.6L375.4,336.6L367.8,340.6L358.3,344.6L348.0,348.1L336.6,351.0L328.6,352.5L326.1,352.5L324.1,352.3L322.3,351.6L321.1,350.6L319.9,349.1L319.0,347.1L318.1,344.6L317.3,341.0L316.0,332.6L315.6,324.1L315.8,315.6L316.6,307.2L318.6,297.3L319.6,293.6L320.5,291.6L321.6,290.1L322.6,289.2L324.6,288.5L327.1,288.2L330.1,288.2L333.6,288.4L342.1,290.0L345.1,290.4L348.1,290.3L350.6,289.7L352.1,288.8L353.6,287.6L356.1,284.3L358.4,280.1L359.0,278.1L359.4,276.1L359.5,273.6L359.1,271.6L358.4,270.1L357.1,269.2L355.6,269.1L354.1,269.3L345.1,272.0L341.1,272.6L339.1,272.4L337.1,271.8L335.6,270.9L334.0,269.6L331.9,267.1L330.5,264.6L329.6,262.1L329.2,259.6L329.4,257.1L330.2,254.6L331.4,252.6L333.1,250.7L336.1,248.5L340.1,246.7L342.1,246.2L344.6,245.9L348.6,246.0L351.1,246.5L353.1,247.3L355.1,248.4L356.6,249.6L358.0,251.1L359.0,252.6L362.1,259.2L362.6,259.8L363.6,260.4L365.1,260.6L367.1,260.3L376.1,257.4L380.6,256.3L384.6,255.7L388.1,255.6L392.6,256.1L396.6,257.1L400.1,258.6L404.6,261.4L405.6,261.7L406.1,261.7L407.1,261.0L411.2,255.1L413.3,252.6L415.5,250.6L417.8,249.1L421.1,247.6L424.6,246.6L428.6,245.9ZM298.4,259.6L300.1,259.3L302.1,259.2L304.1,259.5L306.1,260.1L308.1,261.0L310.1,262.3L312.0,264.1L313.3,265.6L314.3,267.1L315.2,269.1L315.8,271.1L316.1,273.1L316.2,275.6L315.9,278.1L315.4,280.1L314.7,281.6L313.8,282.6L312.6,283.4L309.6,284.7L302.1,286.9L296.2,288.1L291.1,288.4L286.1,288.2L282.6,287.5L281.1,286.9L279.7,286.1L278.5,285.1L277.5,283.6L276.9,282.1L276.7,280.6L276.9,278.6L277.5,276.6L278.5,274.6L279.7,272.6L281.2,270.6L283.1,268.5L285.6,266.3L288.1,264.4L291.1,262.5L293.6,261.2L296.1,260.2Z"/>
<path fill="#fc4d2a" d="M301.2,107.1L303.1,106.7L305.1,106.6L309.6,107.2L313.5,108.5L315.0,109.5L316.0,110.6L316.5,111.5L316.7,113.0L316.5,114.6L315.9,116.0L314.8,118.0L313.7,119.5L311.1,121.9L309.1,122.9L307.1,123.5L305.1,123.6L302.6,123.3L300.1,122.6L298.1,121.5L296.1,120.1L294.9,118.5L294.2,117.0L293.9,115.0L294.1,113.4L295.0,111.6L296.1,110.0L297.6,108.7L299.1,107.8ZM371.1,115.5L373.6,115.2L376.1,115.2L379.1,115.5L381.6,116.0L384.1,116.8L386.6,117.9L388.7,119.0L390.7,120.5L392.2,122.0L393.6,124.0L394.4,125.5L395.1,127.5L395.3,129.6L395.1,131.6L394.4,133.6L393.5,135.1L391.7,137.1L390.0,138.6L387.1,140.6L384.4,142.1L377.5,145.1L370.1,147.3L363.6,148.5L358.6,148.7L356.1,148.3L354.1,147.8L352.1,146.9L350.1,145.8L348.7,144.5L347.1,142.8L346.3,141.1L346.0,139.6L345.9,138.1L346.4,136.1L347.2,134.1L348.7,131.6L350.6,129.0L353.1,126.3L356.1,123.6L359.1,121.3L362.6,119.0L365.6,117.4L368.6,116.2ZM521.6,186.1L528.1,185.7L533.6,186.0L538.1,187.0L541.1,188.4L542.6,189.6L543.9,191.1L544.8,192.6L545.6,194.6L545.9,196.6L545.9,198.1L545.5,199.6L544.8,201.1L543.5,202.6L542.3,203.6L539.8,205.1L537.5,206.0L534.6,207.1L530.1,208.2L526.1,209.1L521.6,209.7L511.6,210.4L507.1,210.4L503.6,210.2L500.6,209.7L498.6,209.0L496.9,208.1L495.6,206.9L494.8,205.5L494.3,203.6L494.3,201.5L494.7,199.6L495.5,197.6L496.6,195.6L497.9,194.1L499.5,192.6L503.1,190.4L507.6,188.7L514.6,187.1ZM340.9,209.1L344.1,208.8L347.6,209.2L351.1,210.4L353.7,212.1L355.6,214.1L356.6,216.1L356.7,218.1L356.3,219.6L355.8,220.6L353.6,223.1L350.8,225.1L346.6,227.2L342.1,228.8L338.1,229.6L334.6,229.7L331.6,229.3L330.1,228.8L328.8,228.1L327.5,227.1L326.6,225.9L326.0,224.6L325.7,223.1L325.8,221.6L326.1,220.1L327.5,217.1L328.6,215.6L330.1,214.1L333.1,211.8L336.9,210.1ZM430.4,247.1L434.6,246.9L438.9,247.1L443.1,247.7L446.7,248.6L449.1,249.6L451.1,251.1L451.9,252.6L452.0,253.6L451.8,254.6L451.1,256.1L450.1,257.6L448.2,259.6L446.0,261.6L440.3,265.6L434.6,268.5L429.4,270.6L424.6,271.6L422.6,271.7L420.6,271.6L418.6,271.1L417.1,270.5L415.9,269.6L414.5,268.1L413.5,266.1L412.9,264.1L412.8,262.1L413.1,259.6L413.8,257.1L414.8,255.1L415.8,253.6L417.2,252.0L419.0,250.6L420.7,249.6L423.0,248.6L425.1,247.9ZM342.5,248.6L345.1,248.3L348.1,248.6L350.6,249.4L352.7,250.6L354.3,252.1L355.6,254.1L356.5,256.5L356.8,259.1L356.6,261.1L355.8,263.1L354.8,264.6L353.0,266.1L350.5,267.6L347.6,268.8L344.6,269.6L342.1,269.9L340.1,269.6L338.5,269.1L336.9,268.1L335.3,266.6L333.8,264.5L332.8,262.6L332.2,260.6L332.0,258.6L332.3,256.6L332.8,255.1L333.7,253.6L335.1,252.1L336.6,250.8L338.6,249.7L340.6,249.0ZM381.0,259.6L384.1,259.2L387.6,259.3L390.6,259.8L392.9,260.6L394.7,261.6L396.3,263.1L397.4,265.1L397.6,267.1L397.3,268.6L396.8,270.1L396.0,271.6L394.7,273.6L392.0,276.6L386.6,281.6L385.0,283.6L383.9,285.6L382.2,291.6L380.7,294.6L378.2,298.1L373.1,303.6L372.0,305.1L371.6,306.1L371.3,307.1L371.3,308.6L371.8,311.6L372.9,314.6L376.0,321.6L377.1,325.1L377.3,326.6L377.2,328.1L376.8,329.6L376.0,331.1L374.9,332.6L372.9,334.6L371.0,336.1L367.9,338.1L361.2,341.6L352.4,345.1L342.5,348.1L337.1,349.3L332.6,350.2L329.1,350.6L326.6,350.5L324.6,350.1L323.1,349.4L321.7,348.1L320.6,346.4L319.6,344.1L318.9,341.6L318.1,338.1L317.4,334.1L316.7,325.6L316.9,317.1L317.7,309.1L318.6,305.1L319.5,302.1L320.6,299.1L321.6,297.3L323.1,295.5L324.6,294.4L326.6,293.6L329.1,293.1L332.1,292.9L335.6,293.1L349.1,295.0L352.1,294.8L354.1,294.1L355.2,293.1L356.1,291.6L360.8,281.1L362.0,277.6L363.5,270.1L364.1,268.6L365.1,267.1L366.1,265.9L367.6,264.7L371.5,262.6L376.1,260.7ZM297.5,262.1L300.7,262.1L302.6,262.5L304.1,263.1L305.6,263.9L307.3,265.1L309.6,267.7L310.6,269.4L311.3,271.1L311.6,272.6L311.8,274.6L311.6,276.6L311.2,278.1L309.8,280.6L307.7,282.6L304.6,284.3L300.6,285.8L296.1,286.8L291.1,287.2L286.6,287.1L283.1,286.3L280.7,285.1L279.6,284.1L278.9,283.1L278.3,281.6L278.1,280.1L278.3,278.6L278.8,276.6L279.7,274.6L281.0,272.6L284.1,269.0L286.1,267.3L288.6,265.5L293.1,263.2L295.1,262.5Z"/>
<path fill="#f23924" d="M301.8,108.0L305.1,107.8L307.1,108.0L309.1,108.5L310.7,109.0L312.1,109.9L313.0,110.5L313.8,111.5L314.2,112.6L314.4,114.1L313.8,116.5L312.2,119.0L311.1,120.1L309.8,121.1L308.1,121.9L306.6,122.2L304.6,122.4L302.6,122.2L300.6,121.6L298.6,120.6L297.1,119.4L296.0,118.0L295.4,116.6L295.2,115.0L295.4,113.5L296.1,112.0L297.1,110.6L298.4,109.5L300.1,108.6ZM370.1,118.0L374.1,117.8L376.1,118.1L378.6,118.6L381.1,119.5L383.1,120.5L384.6,121.6L386.3,123.1L387.6,124.5L388.5,126.1L389.2,127.5L389.7,129.6L389.7,131.6L389.5,133.1L388.9,134.6L388.0,136.1L386.8,137.6L385.2,139.1L383.1,140.6L380.5,142.1L374.9,144.6L368.1,146.5L362.6,147.4L358.1,147.4L356.1,147.1L354.1,146.5L352.2,145.6L350.7,144.6L349.1,143.2L348.1,141.8L347.5,140.1L347.3,138.6L347.4,137.1L348.0,135.1L349.0,133.1L350.1,131.3L352.0,129.1L354.1,126.9L356.6,124.7L359.6,122.5L362.6,120.7L365.1,119.5L367.6,118.6ZM517.0,188.1L522.6,187.6L527.6,187.7L531.6,188.4L535.1,189.7L536.6,190.7L538.1,192.1L538.9,193.1L539.7,194.6L540.1,196.1L540.2,197.6L539.9,199.1L539.3,200.6L538.1,202.1L537.0,203.1L534.7,204.6L532.6,205.6L527.1,207.3L520.8,208.6L512.1,209.3L505.1,209.2L502.6,208.9L500.1,208.2L498.6,207.5L497.1,206.4L496.2,205.1L495.7,203.6L495.6,202.1L495.8,200.6L496.2,199.0L497.1,197.1L498.1,195.5L499.6,194.1L502.4,192.1L506.1,190.4L511.1,189.0ZM339.1,211.6L341.6,211.4L344.1,211.7L346.6,212.5L348.3,213.6L349.6,215.1L350.2,216.6L350.2,218.1L349.5,220.1L347.9,222.1L346.0,223.6L343.4,225.1L340.6,226.2L337.6,226.9L335.1,227.0L332.6,226.7L330.6,225.8L329.1,224.5L328.5,223.6L328.1,222.3L328.2,220.1L329.3,217.6L331.1,215.3L333.5,213.6L336.1,212.3ZM430.2,248.6L434.1,248.3L438.1,248.5L441.6,249.1L444.7,250.1L446.6,251.1L448.1,252.6L448.6,254.1L448.2,256.1L447.4,257.6L446.2,259.1L443.0,262.1L438.7,265.1L434.1,267.5L429.6,269.2L425.6,270.0L422.1,269.9L419.6,269.1L418.2,268.1L417.3,267.1L416.5,265.6L415.9,263.6L415.7,261.6L415.9,259.6L416.4,257.6L417.1,256.1L418.0,254.6L419.1,253.1L421.8,251.1L423.6,250.1L425.6,249.4ZM341.5,251.1L343.1,250.8L345.1,250.7L347.1,251.0L348.7,251.6L350.1,252.4L351.4,253.6L352.4,255.1L352.9,256.6L353.1,258.1L352.9,260.0L352.4,261.6L351.5,263.1L350.1,264.4L348.6,265.5L347.1,266.3L345.1,266.9L343.1,267.2L341.6,267.1L340.1,266.6L339.0,266.1L337.6,265.0L336.4,263.6L335.5,262.1L335.0,260.6L334.7,259.1L334.8,257.6L335.2,256.1L336.0,254.6L336.9,253.6L338.1,252.5L339.6,251.7ZM382.2,262.6L384.6,262.6L387.1,263.0L388.8,263.6L390.4,264.5L391.3,265.6L392.0,267.0L392.0,268.6L391.4,270.6L390.2,272.6L388.4,274.5L381.7,280.1L380.1,281.5L379.4,282.6L378.8,283.6L378.4,285.1L378.1,290.0L377.8,292.1L377.0,294.1L375.6,296.1L373.6,297.8L371.1,299.1L368.6,299.4L367.1,299.2L366.1,298.8L364.1,297.4L362.6,295.4L361.6,293.0L361.3,290.1L361.8,287.1L364.7,279.6L366.2,273.6L367.0,271.1L367.9,269.6L369.1,268.0L370.8,266.6L372.6,265.4L374.6,264.4L377.1,263.5L379.6,262.9ZM295.3,264.6L298.1,264.4L301.1,265.1L302.6,265.9L304.1,266.9L306.1,269.0L307.4,271.6L307.8,273.1L308.0,274.6L307.7,277.1L306.5,279.6L304.8,281.6L302.1,283.3L299.1,284.6L295.6,285.5L291.6,286.0L287.6,285.9L284.6,285.3L282.1,284.1L281.0,283.1L280.3,282.1L279.9,281.0L279.7,279.6L279.8,278.1L280.2,276.6L281.7,273.6L284.2,270.6L287.6,267.7L291.6,265.6ZM329.2,297.6L332.6,297.3L336.6,297.5L341.6,298.3L346.6,299.4L351.9,301.1L356.6,302.9L359.7,304.6L362.3,306.6L364.9,309.6L367.6,314.1L369.7,318.6L370.9,322.6L371.1,326.1L370.6,329.1L369.3,332.1L367.2,334.6L364.9,336.6L362.8,338.1L357.2,341.1L351.1,343.6L343.1,346.1L335.6,347.7L332.6,348.1L329.6,348.3L327.6,348.2L325.6,347.7L324.4,347.0L323.2,346.1L321.8,344.1L320.6,341.6L319.6,338.1L318.6,333.1L318.2,328.6L318.0,323.6L318.1,318.1L318.5,313.6L319.1,309.9L319.9,307.1L321.0,304.1L322.1,301.9L323.6,300.1L325.1,299.0L327.1,298.0Z"/>
<path fill="#e8241f" d="M304.0,109.0L307.1,109.4L309.6,110.4L311.1,111.7L311.7,112.5L312.1,113.6L312.1,114.5L311.8,116.0L311.1,117.5L310.3,118.5L309.2,119.5L308.1,120.2L305.6,121.0L304.1,121.0L302.6,120.8L301.1,120.4L299.6,119.7L298.6,119.0L297.6,117.9L296.9,116.5L296.7,115.5L296.7,114.5L297.1,113.0L297.7,112.0L298.6,111.0L299.6,110.3L301.1,109.6ZM369.7,120.5L373.1,120.6L376.8,121.5L378.6,122.4L380.1,123.3L382.6,125.5L383.6,127.0L384.3,128.6L384.8,130.1L384.9,131.6L384.8,133.1L384.4,134.6L383.0,137.1L380.5,139.6L376.5,142.1L371.8,144.1L366.3,145.6L362.1,146.1L358.1,146.0L354.6,145.2L353.1,144.5L351.6,143.5L350.6,142.6L349.5,141.1L348.9,139.6L348.8,138.1L349.0,136.6L349.6,134.6L351.9,131.1L353.6,129.0L355.6,127.1L360.1,123.9L362.6,122.5L365.1,121.5L367.6,120.8ZM518.3,189.6L522.6,189.6L526.3,190.1L529.4,191.1L531.9,192.6L533.7,194.6L534.2,195.6L534.6,197.1L534.5,198.6L534.3,199.6L533.1,201.5L530.8,203.6L529.0,204.6L526.6,205.6L521.1,207.0L515.1,207.9L509.1,208.2L504.1,207.9L502.1,207.5L500.6,206.9L499.2,206.0L498.2,205.0L497.6,204.1L497.2,202.6L497.2,201.1L497.5,199.6L498.7,197.1L499.9,195.6L501.1,194.4L504.1,192.6L508.1,191.1L513.1,190.1ZM337.0,214.6L338.6,214.3L340.1,214.3L341.3,214.6L342.6,215.1L343.8,216.1L344.3,217.1L344.5,218.1L344.3,219.1L343.8,220.1L342.6,221.3L341.6,222.1L339.9,223.1L338.1,223.7L336.6,223.9L335.1,223.9L333.6,223.6L332.5,223.1L331.6,222.1L331.1,220.6L331.3,219.1L332.2,217.6L333.6,216.1L335.1,215.2ZM432.4,250.1L435.7,250.1L438.9,250.6L441.6,251.4L443.6,252.6L444.5,253.6L445.0,255.1L444.9,256.6L443.8,258.6L442.1,260.6L439.1,263.1L435.6,265.2L431.7,267.0L428.6,267.9L425.6,268.3L423.1,268.0L421.1,267.2L420.1,266.3L419.2,265.1L418.6,263.6L418.4,262.1L418.3,260.6L418.7,258.6L419.2,257.1L420.1,255.6L422.1,253.3L423.6,252.3L425.1,251.6L428.6,250.5ZM342.5,253.6L345.1,253.6L347.1,254.3L348.5,255.5L349.0,256.6L349.3,257.6L349.2,259.6L348.2,261.6L346.4,263.1L344.1,263.9L342.1,263.8L340.1,262.9L338.6,261.4L338.1,260.4L337.8,259.1L338.0,257.1L338.9,255.6L340.6,254.2ZM379.4,266.6L381.1,266.4L382.6,266.6L384.1,267.0L384.9,267.6L385.6,268.6L385.8,269.6L385.6,270.6L385.1,271.6L384.1,272.7L382.7,274.1L378.6,276.5L374.6,278.2L373.1,278.4L372.1,278.2L371.6,277.8L371.1,277.0L370.7,275.1L371.0,273.1L371.9,271.1L373.1,269.5L375.1,268.1L377.1,267.1ZM293.0,267.1L295.6,266.8L298.1,267.1L300.3,268.1L302.2,269.6L303.6,271.6L304.4,274.1L304.3,276.6L303.6,278.6L302.5,280.1L300.6,281.7L298.3,283.1L295.6,283.9L292.1,284.5L289.1,284.5L286.1,284.1L284.1,283.3L283.1,282.6L282.2,281.6L281.7,280.5L281.4,279.6L281.6,277.1L282.6,274.7L284.6,272.1L287.1,269.8L290.1,268.0ZM368.8,286.6L369.6,286.3L370.1,286.4L371.1,287.5L371.5,288.6L371.6,289.6L371.4,290.6L371.1,291.1L370.1,291.8L369.1,291.7L368.6,291.4L368.1,290.9L367.6,289.9L367.5,289.1L367.7,288.1L368.1,287.2ZM331.3,301.6L335.1,301.5L339.1,302.1L343.6,303.1L348.1,304.7L352.1,306.5L355.4,308.5L358.1,310.7L360.6,313.3L362.6,316.1L364.1,319.2L365.1,322.6L365.3,325.6L364.8,328.6L363.9,331.1L362.3,333.6L359.8,336.1L356.1,338.6L350.6,341.2L343.6,343.5L337.6,344.9L332.6,345.5L328.6,345.3L326.1,344.4L324.9,343.6L323.9,342.6L322.6,340.6L321.6,338.1L320.6,334.8L320.0,331.1L319.6,327.0L319.6,322.1L319.8,317.6L320.3,313.6L320.8,311.1L321.6,308.5L322.6,306.5L324.1,304.6L325.6,303.3L327.1,302.5L329.1,301.9Z"/>
<path fill="#db141e" d="M301.6,111.0L303.6,110.6L305.6,110.8L307.6,111.6L308.6,112.4L309.4,113.5L309.6,115.0L309.2,116.5L308.1,117.9L307.3,118.5L306.1,119.1L303.6,119.4L302.1,119.1L301.1,118.7L299.6,117.5L298.7,116.0L298.5,115.0L298.6,114.0L299.1,113.1L299.6,112.3L300.6,111.5ZM365.9,123.5L369.1,123.2L372.1,123.6L375.1,124.7L377.7,126.5L378.6,127.6L379.6,129.1L380.4,131.6L380.2,134.1L379.2,136.6L378.0,138.1L377.0,139.1L374.1,141.0L370.9,142.6L366.6,143.9L362.6,144.6L359.1,144.6L356.2,144.0L353.6,142.9L352.6,142.1L351.6,141.1L351.0,140.1L350.6,138.6L350.5,137.6L350.7,136.1L351.3,134.6L352.1,133.1L354.6,129.9L358.1,127.0L362.1,124.7ZM516.9,191.6L520.1,191.7L523.1,192.3L525.6,193.3L527.4,194.6L528.5,196.1L529.1,198.1L528.7,200.1L527.7,201.6L526.6,202.6L525.0,203.6L521.7,205.0L517.4,206.1L512.6,206.7L508.1,206.9L504.6,206.5L501.7,205.5L500.6,204.9L499.8,204.1L499.3,203.0L499.0,202.1L499.0,201.1L499.3,199.6L499.7,198.6L500.6,197.1L502.6,195.2L505.6,193.6L508.6,192.6L512.6,191.8ZM429.0,252.6L431.1,252.2L433.6,252.1L436.1,252.4L438.3,253.1L440.0,254.0L440.8,255.1L441.2,256.1L441.0,257.6L440.3,259.1L438.5,261.1L436.7,262.6L434.1,264.1L431.1,265.4L428.7,266.1L426.6,266.2L424.6,265.9L423.6,265.5L422.6,264.8L422.0,264.1L421.5,263.1L421.1,261.1L421.5,258.6L422.5,256.6L424.1,254.8L426.1,253.5ZM291.6,269.6L293.6,269.3L295.6,269.4L297.4,270.1L298.8,271.1L300.1,272.6L300.7,274.1L300.8,276.1L300.5,277.6L299.6,279.1L298.6,280.1L297.1,281.2L295.1,282.1L292.6,282.7L290.1,282.8L288.1,282.6L286.2,282.1L284.6,281.0L283.7,279.6L283.5,277.6L284.1,275.6L285.4,273.6L287.1,271.8L289.1,270.5ZM329.3,306.6L332.1,306.1L335.6,306.2L339.1,306.7L343.1,307.8L346.6,309.2L350.1,311.1L352.9,313.1L355.0,315.1L356.9,317.6L358.2,320.1L359.0,322.6L359.2,325.1L358.9,327.6L358.1,330.1L356.9,332.1L355.1,334.1L351.8,336.6L348.0,338.6L343.6,340.1L338.6,341.3L334.1,341.8L330.6,341.6L329.1,341.3L327.6,340.7L325.6,339.1L324.6,337.8L323.6,335.9L322.8,333.6L322.3,331.1L321.7,324.6L322.0,318.1L322.7,314.1L323.4,312.1L324.1,310.5L325.1,309.1L326.2,308.1L327.6,307.2Z"/>
<path fill="#cb0a22" d="M302.4,113.5L303.6,113.2L305.2,113.5L306.0,114.5L306.1,115.1L305.7,116.0L305.0,116.5L304.1,116.8L303.1,116.7L302.1,116.2L301.6,115.6L301.5,115.0L301.8,114.1ZM363.6,126.5L366.1,126.1L368.6,126.3L371.1,127.0L373.1,128.1L374.9,130.1L375.7,132.1L375.7,134.1L375.0,136.1L373.5,138.1L371.7,139.6L368.9,141.1L366.1,142.0L363.1,142.6L360.1,142.8L357.6,142.4L355.6,141.7L354.6,141.0L353.6,140.1L352.9,138.6L352.7,136.6L353.6,134.1L355.4,131.6L357.6,129.5L360.6,127.7ZM511.7,194.1L514.6,193.9L517.1,194.2L519.1,194.7L521.1,195.6L522.2,196.6L523.0,198.1L523.0,199.6L522.5,200.5L521.1,202.1L518.6,203.4L515.6,204.3L512.1,205.0L509.1,205.1L506.1,204.9L503.6,204.1L502.2,203.1L501.6,202.1L501.4,200.6L501.9,199.1L503.1,197.4L504.6,196.2L506.7,195.2L508.8,194.6ZM429.0,255.6L431.6,255.1L433.1,255.2L434.4,255.6L435.3,256.1L436.1,257.1L436.2,258.6L435.7,259.6L434.8,260.6L432.6,262.1L431.1,262.8L429.6,263.2L428.1,263.3L427.1,263.2L425.8,262.6L425.1,261.8L424.8,260.6L424.8,259.6L425.5,258.1L426.3,257.1L427.6,256.1ZM290.8,272.6L292.1,272.3L293.1,272.4L295.0,273.1L295.6,273.6L296.3,274.6L296.6,275.6L296.5,276.6L295.9,278.1L295.1,278.8L294.1,279.6L292.1,280.2L289.6,280.3L288.1,279.9L287.1,279.2L286.4,278.1L286.4,277.1L286.9,275.6L287.6,274.5L289.1,273.3ZM333.2,313.6L335.1,313.6L337.6,314.0L342.1,315.4L345.8,317.6L347.1,318.7L348.4,320.1L349.3,321.6L349.8,323.1L350.1,324.6L349.9,326.1L349.6,327.1L348.9,328.6L347.7,330.1L346.5,331.1L344.1,332.5L341.7,333.6L338.6,334.4L335.6,334.8L333.1,334.7L331.1,334.3L329.6,333.5L328.2,332.1L327.1,330.1L326.3,326.6L326.2,322.6L326.7,319.1L327.6,316.6L329.0,315.1L330.7,314.1Z"/>
<path fill="#bb0026" d="M362.0,130.1L363.6,129.7L365.1,129.6L366.6,129.8L368.3,130.6L369.5,131.6L370.1,132.7L370.4,134.1L370.0,135.6L369.4,136.6L368.1,137.9L366.6,138.8L365.0,139.6L363.1,140.0L361.1,140.2L359.6,140.1L358.1,139.7L357.1,139.1L356.1,138.0L355.8,136.6L356.0,135.1L356.9,133.6L358.3,132.1L360.1,130.8ZM510.5,197.6L512.1,197.6L513.7,198.1L514.5,198.6L514.8,199.1L514.7,200.1L514.1,200.7L513.1,201.4L510.6,202.1L508.1,202.1L506.8,201.6L506.3,201.1L506.1,200.1L506.7,199.1L508.3,198.1Z"/>
</g>
<g fill="none" stroke="#ff0000" stroke-width="1.3" stroke-linejoin="miter">
<polygon points="282.4,119.6 295.2,101.7 310.2,101.7 311.4,103.4 313.2,100.4 340.5,100.4 340.5,101.8 311.5,132.6"/>
<polygon points="335.1,141.7 367.5,101.7 414.3,103.8 413.1,143.6 353.3,156.3"/>
<polygon points="484.9,218.2 485.6,212.0 490.2,194.3 496.6,186.7 553.9,168.7 566.3,215.6 494.2,214.0 492.2,217.8"/>
<polygon points="351.1,181.8 399.9,233.9 313.4,255.1 313.4,221.6"/>
<polygon points="385.2,240.2 416.1,242.8 414.3,283.0 352.4,281.5"/>
<polygon points="412.4,239.3 492.7,241.4 493.7,244.7 384.0,299.0 360.2,279.7"/>
<polygon points="313.3,364.1 311.8,291.3 315.3,281.0 324.0,282.6 349.0,282.4 410.5,334.8"/>
<polyline points="318.0,227.2 376.6,228.4 394.1,253.5 338.9,282.4"/>
<polyline points="338.9,282.8 319.4,227.2 275.0,274.9 300.4,293.5 312.2,290.9"/>
<polyline points="313.1,295.0 316.8,284.6 332.0,283.4"/>
<polyline points="313.1,295.0 338.9,282.4"/>
<polyline points="349.2,281.4 325.3,311.3 354.8,322.3 414.3,285.5 414.3,283.0"/>
<polyline points="319.4,227.2 313.3,230.7 309.9,230.2 266.2,282.7 276.9,293.5 300.4,293.5"/>
</g>
<g fill="none" stroke="#008000" stroke-width="1.4" stroke-dasharray="8.33 8.33">
<line x1="264.6" y1="122.5" x2="353.8" y2="102.8"/>
<line x1="317.1" y1="141.2" x2="422.8" y2="118.8"/>
<line x1="467.2" y1="206.4" x2="574.6" y2="192.6"/>
<line x1="295.2" y1="229.0" x2="403.3" y2="217.7"/>
<line x1="257.3" y1="274.7" x2="395.7" y2="243.6"/>
<line x1="248.4" y1="284.4" x2="345.0" y2="256.1"/>
<line x1="336.2" y1="276.4" x2="425.0" y2="257.1"/>
<line x1="342.2" y1="287.9" x2="505.0" y2="237.5"/>
<line x1="308.3" y1="312.7" x2="412.9" y2="286.3"/>
<line x1="293.6" y1="320.5" x2="418.1" y2="328.1"/>
</g>
<g fill="none" stroke="#000" stroke-width="1">
<rect x="102.5" y="61.5" width="629.0" height="343.0"/>
<path stroke-width="0.7" d="M154.5,404.5v-5.5M154.5,61.5v5.5M245.5,404.5v-5.5M245.5,61.5v5.5M335.5,404.5v-5.5M335.5,61.5v5.5M425.5,404.5v-5.5M425.5,61.5v5.5M516.5,404.5v-5.5M516.5,61.5v5.5M606.5,404.5v-5.5M606.5,61.5v5.5M697.5,404.5v-5.5M697.5,61.5v5.5M102.5,111.5h5.5M731.5,111.5h-5.5M102.5,202.5h5.5M731.5,202.5h-5.5M102.5,292.5h5.5M731.5,292.5h-5.5M102.5,382.5h5.5M731.5,382.5h-5.5"/>
</g>
<g opacity="0.999">
<text x="153.6" y="421" font-size="16.9" text-anchor="middle" textLength="47.2" lengthAdjust="spacingAndGlyphs">−95.5</text>
<text x="244.6" y="421" font-size="16.9" text-anchor="middle" textLength="47.2" lengthAdjust="spacingAndGlyphs">−95.0</text>
<text x="334.6" y="421" font-size="16.9" text-anchor="middle" textLength="47.2" lengthAdjust="spacingAndGlyphs">−94.5</text>
<text x="424.6" y="421" font-size="16.9" text-anchor="middle" textLength="47.2" lengthAdjust="spacingAndGlyphs">−94.0</text>
<text x="515.6" y="421" font-size="16.9" text-anchor="middle" textLength="47.2" lengthAdjust="spacingAndGlyphs">−93.5</text>
<text x="605.6" y="421" font-size="16.9" text-anchor="middle" textLength="47.2" lengthAdjust="spacingAndGlyphs">−93.0</text>
<text x="696.6" y="421" font-size="16.9" text-anchor="middle" textLength="47.2" lengthAdjust="spacingAndGlyphs">−92.5</text>
<text x="95.2" y="117.2" font-size="16.9" text-anchor="end" textLength="33.4" lengthAdjust="spacingAndGlyphs">38.0</text>
<text x="95.2" y="208.2" font-size="16.9" text-anchor="end" textLength="33.4" lengthAdjust="spacingAndGlyphs">37.5</text>
<text x="95.2" y="298.2" font-size="16.9" text-anchor="end" textLength="33.4" lengthAdjust="spacingAndGlyphs">37.0</text>
<text x="95.2" y="388.2" font-size="16.9" text-anchor="end" textLength="33.4" lengthAdjust="spacingAndGlyphs">36.5</text>
<text x="416" y="440" font-size="16.9" text-anchor="middle" textLength="73.4" lengthAdjust="spacingAndGlyphs">longitude</text>
<text transform="translate(54.4,233) rotate(-90)" font-size="16.9" text-anchor="middle" textLength="61.6" lengthAdjust="spacingAndGlyphs">latitude</text>
<text x="88.3" y="54" font-size="20.3" textLength="106.9" lengthAdjust="spacingAndGlyphs">Springfield</text>
<text x="196.3" y="54" font-size="20.3" textLength="6.3" lengthAdjust="spacingAndGlyphs">,</text>
<text x="206.7" y="54" font-size="20.3" textLength="33.7" lengthAdjust="spacingAndGlyphs">MO</text>
<text x="245.5" y="54" font-size="20.3" textLength="123.0" lengthAdjust="spacingAndGlyphs">storm-based</text>
<text x="375.5" y="54" font-size="20.3" textLength="77.3" lengthAdjust="spacingAndGlyphs">warning</text>
<text x="459.2" y="54" font-size="20.3" textLength="88.3" lengthAdjust="spacingAndGlyphs">polygons</text>
<text x="554.5" y="54" font-size="20.3" textLength="30.5" lengthAdjust="spacingAndGlyphs">old</text>
<text x="590.0" y="54" font-size="20.3" textLength="73.5" lengthAdjust="spacingAndGlyphs">midline</text>
<text x="670.0" y="54" font-size="20.3" textLength="75.2" lengthAdjust="spacingAndGlyphs">method</text>
</g>
<g shape-rendering="crispEdges">
<rect x="102.50" y="477.5" width="31.95" height="32.0" fill="#fffcc4"/>
<rect x="133.95" y="477.5" width="31.95" height="32.0" fill="#fff4b2"/>
<rect x="165.40" y="477.5" width="31.95" height="32.0" fill="#ffeda0"/>
<rect x="196.85" y="477.5" width="31.95" height="32.0" fill="#ffe590"/>
<rect x="228.30" y="477.5" width="31.95" height="32.0" fill="#fedd7f"/>
<rect x="259.75" y="477.5" width="31.95" height="32.0" fill="#fed16e"/>
<rect x="291.20" y="477.5" width="31.95" height="32.0" fill="#fec15d"/>
<rect x="322.65" y="477.5" width="31.95" height="32.0" fill="#feb24c"/>
<rect x="354.10" y="477.5" width="31.95" height="32.0" fill="#fea446"/>
<rect x="385.55" y="477.5" width="31.95" height="32.0" fill="#fd953f"/>
<rect x="417.00" y="477.5" width="31.95" height="32.0" fill="#fd8038"/>
<rect x="448.45" y="477.5" width="31.95" height="32.0" fill="#fc6631"/>
<rect x="479.90" y="477.5" width="31.95" height="32.0" fill="#fc4d2a"/>
<rect x="511.35" y="477.5" width="31.95" height="32.0" fill="#f23924"/>
<rect x="542.80" y="477.5" width="31.95" height="32.0" fill="#e8241f"/>
<rect x="574.25" y="477.5" width="31.95" height="32.0" fill="#db141e"/>
<rect x="605.70" y="477.5" width="31.95" height="32.0" fill="#cb0a22"/>
<rect x="637.15" y="477.5" width="31.95" height="32.0" fill="#bb0026"/>
<rect x="668.60" y="477.5" width="31.95" height="32.0" fill="#a40026"/>
<rect x="700.05" y="477.5" width="31.95" height="32.0" fill="#8b0026"/>
</g>
<rect x="102.5" y="477.5" width="629.0" height="32.0" fill="none" stroke="#000" stroke-width="1"/>
<text opacity="0.999" x="102.0" y="526.3" font-size="16.9" text-anchor="middle" textLength="8.6" lengthAdjust="spacingAndGlyphs">0</text>
<text opacity="0.999" x="196.3" y="526.3" font-size="16.9" text-anchor="middle" textLength="8.6" lengthAdjust="spacingAndGlyphs">3</text>
<text opacity="0.999" x="290.7" y="526.3" font-size="16.9" text-anchor="middle" textLength="8.6" lengthAdjust="spacingAndGlyphs">6</text>
<text opacity="0.999" x="385.1" y="526.3" font-size="16.9" text-anchor="middle" textLength="8.6" lengthAdjust="spacingAndGlyphs">9</text>
<text opacity="0.999" x="479.4" y="526.3" font-size="16.9" text-anchor="middle" textLength="19.2" lengthAdjust="spacingAndGlyphs">12</text>
<text opacity="0.999" x="573.8" y="526.3" font-size="16.9" text-anchor="middle" textLength="19.2" lengthAdjust="spacingAndGlyphs">15</text>
<text opacity="0.999" x="668.1" y="526.3" font-size="16.9" text-anchor="middle" textLength="19.2" lengthAdjust="spacingAndGlyphs">18</text>
<path fill="none" stroke="#000" stroke-width="0.7" d="M102.5,477.5v5.5M102.5,509.5v-5.5M196.5,477.5v5.5M196.5,509.5v-5.5M291.5,477.5v5.5M291.5,509.5v-5.5M385.5,477.5v5.5M385.5,509.5v-5.5M479.5,477.5v5.5M479.5,509.5v-5.5M574.5,477.5v5.5M574.5,509.5v-5.5M668.5,477.5v5.5M668.5,509.5v-5.5"/>
</svg></body></html>
